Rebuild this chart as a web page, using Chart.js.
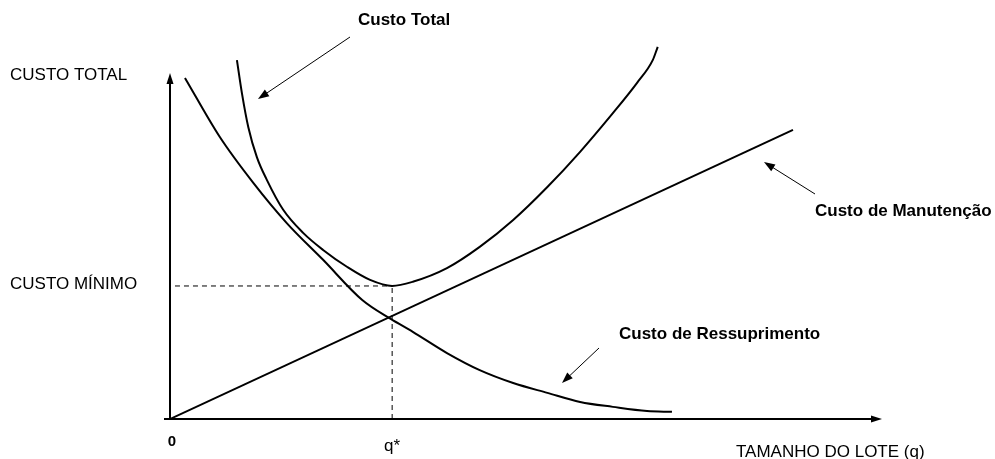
<!DOCTYPE html>
<html>
<head>
<meta charset="utf-8">
<script src="https://cdn.jsdelivr.net/npm/chart.js@4/dist/chart.umd.min.js"></script>
<style>
html, body { margin: 0; padding: 0; background: #fff; }
#wrap { width: 995px; height: 459px; }
</style>
</head>
<body>
<div id="wrap"><canvas id="chart"></canvas></div>
<script>
var custoTotalQ = [9.4, 10.1, 11.0, 12.2, 13.6, 15.9, 18.7, 21.5, 24.9, 28.1, 31.2, 34.1, 38.9, 43.5, 48.2, 53.0, 57.6, 62.2, 65.6, 67.8, 68.5]
var custoTotalY = [94.7, 86.0, 77.0, 69.1, 63.1, 55.2, 49.1, 44.6, 40.1, 36.7, 35.1, 36.2, 39.8, 45.4, 52.5, 61.2, 70.5, 80.7, 88.7, 94.7, 98.2]
var ressuprimentoQ = [2.1, 7.0, 11.7, 16.4, 21.5, 27.0, 31.0, 34.1, 38.9, 43.5, 48.2, 53.0, 57.6, 62.2, 67.0, 70.5]
var ressuprimentoY = [90.0, 74.4, 62.3, 51.7, 42.0, 31.4, 26.4, 23.0, 17.4, 12.9, 9.5, 6.9, 4.5, 3.2, 2.1, 1.9]
var manutencaoQ = [0, 87.5]
var manutencaoY = [0, 76.3]
var qOtimo = 31.2
var custoMinimo = 35.1
var eixoQMax = 100
var eixoCustoMax = 91.3

var rotuloEixoY = 'CUSTO TOTAL'
var rotuloMinimo = 'CUSTO MÍNIMO'
var rotuloEixoX = 'TAMANHO DO LOTE (q)'
var rotuloOrigem = '0'
var rotuloQ = 'q*'
var nomesCurvas = ['Custo Total', 'Custo de Manutenção', 'Custo de Ressuprimento']

function pontos(xs, ys) {
  var out = []
  for (var i = 0; i < xs.length; i++) {
    out.push({ x: xs[i], y: ys[i] })
  }
  return out
}

function seta(ctx, x1, y1, x2, y2, comp, larg) {
  var ang = Math.atan2(y2 - y1, x2 - x1)
  ctx.beginPath()
  ctx.moveTo(x1, y1)
  ctx.lineTo(x2 - Math.cos(ang) * comp * 0.8, y2 - Math.sin(ang) * comp * 0.8)
  ctx.stroke()
  ctx.beginPath()
  ctx.moveTo(x2, y2)
  ctx.lineTo(x2 - Math.cos(ang) * comp + Math.sin(ang) * larg / 2, y2 - Math.sin(ang) * comp - Math.cos(ang) * larg / 2)
  ctx.lineTo(x2 - Math.cos(ang) * comp - Math.sin(ang) * larg / 2, y2 - Math.sin(ang) * comp + Math.cos(ang) * larg / 2)
  ctx.closePath()
  ctx.fill()
}

const desenho = {
  id: 'desenho',
  afterDatasetsDraw(chart) {
    const ctx = chart.ctx
    const sx = chart.scales.x
    const sy = chart.scales.y
    const x0 = sx.getPixelForValue(0)
    const y0 = sy.getPixelForValue(0)
    ctx.save()
    ctx.strokeStyle = '#000'
    ctx.fillStyle = '#000'

    // eixos com setas
    ctx.lineWidth = 2
    seta(ctx, x0, y0 + 1, x0, sy.getPixelForValue(eixoCustoMax), 11, 7)
    seta(ctx, x0 - 6, y0, sx.getPixelForValue(eixoQMax), y0, 11, 7)

    // setas das legendas
    ctx.lineWidth = 1
    seta(ctx, 350, 37, 258, 99, 11, 8)
    seta(ctx, 815, 194, 764, 162, 11, 8)
    seta(ctx, 599, 348, 562, 383, 11, 8)

    // textos
    ctx.textBaseline = 'middle'
    ctx.font = '17px "Liberation Sans", Arial, sans-serif'
    ctx.textAlign = 'left'
    ctx.fillText(rotuloEixoY, 10, 75)
    ctx.fillText(rotuloMinimo, 10, sy.getPixelForValue(custoMinimo) - 2)
    ctx.fillText(rotuloEixoX, 736, 452)
    ctx.textAlign = 'center'
    ctx.fillText(rotuloQ, sx.getPixelForValue(qOtimo), 446)
    ctx.font = 'bold 15px "Liberation Sans", Arial, sans-serif'
    ctx.fillText(rotuloOrigem, x0 + 2, 442)
    ctx.font = 'bold 17px "Liberation Sans", Arial, sans-serif'
    ctx.textAlign = 'left'
    ctx.fillText(nomesCurvas[0], 358, 20)
    ctx.fillText(nomesCurvas[1], 815, 211)
    ctx.fillText(nomesCurvas[2], 619, 334)
    ctx.restore()
  }
}

const linha = { showLine: true, pointRadius: 0, borderColor: '#000', fill: false }

new Chart(document.getElementById('chart'), {
  type: 'scatter',
  data: {
    datasets: [
      Object.assign({ label: nomesCurvas[0], data: pontos(custoTotalQ, custoTotalY), borderWidth: 2, cubicInterpolationMode: 'monotone' }, linha),
      Object.assign({ label: nomesCurvas[2], data: pontos(ressuprimentoQ, ressuprimentoY), borderWidth: 2, cubicInterpolationMode: 'monotone' }, linha),
      Object.assign({ label: nomesCurvas[1], data: pontos(manutencaoQ, manutencaoY), borderWidth: 2 }, linha),
      Object.assign({ label: 'q*', data: [{ x: qOtimo, y: 0 }, { x: qOtimo, y: custoMinimo }], borderWidth: 1, borderDash: [5, 4] }, linha),
      Object.assign({ label: 'minimo', data: [{ x: 0.7, y: custoMinimo }, { x: qOtimo, y: custoMinimo }], borderWidth: 1, borderDash: [5, 4] }, linha)
    ]
  },
  options: {
    responsive: true,
    maintainAspectRatio: false,
    animation: false,
    layout: { padding: { left: 170, right: 113, top: 40, bottom: 40 } },
    plugins: { legend: { display: false }, tooltip: { enabled: false } },
    scales: {
      x: { type: 'linear', min: 0, max: eixoQMax, display: false },
      y: { type: 'linear', min: 0, max: 100, display: false }
    }
  },
  plugins: [desenho]
})
</script>
</body>
</html>
